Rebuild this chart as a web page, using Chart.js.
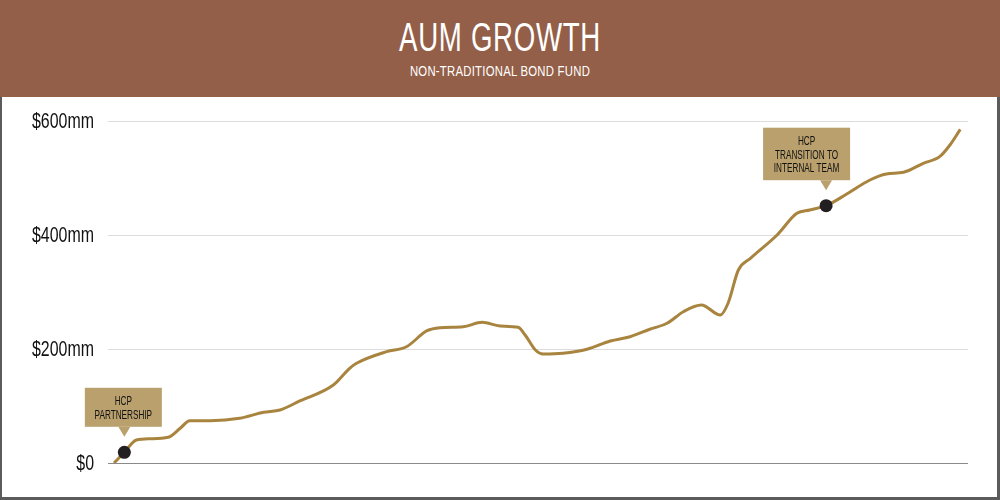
<!DOCTYPE html>
<html>
<head>
<meta charset="utf-8">
<script src="https://cdn.jsdelivr.net/npm/chart.js@4/dist/chart.umd.min.js"></script>
<style>
  html, body { margin: 0; padding: 0; width: 1000px; height: 500px; overflow: hidden; background: #ffffff; }
  #header { position: absolute; left: 0; top: 0; width: 1000px; height: 97px; background: #935F48; }
  #title { position: absolute; left: 0; width: 1000px; top: 17px; text-align: center; color: #ffffff;
           font-family: "Liberation Sans", sans-serif; font-size: 41px; line-height: 41px;
           transform: scaleX(0.675); transform-origin: 500px 0; letter-spacing: 1px; }
  #subtitle { position: absolute; left: 0; width: 1000px; top: 64px; text-align: center; color: #ffffff;
           font-family: "Liberation Sans", sans-serif; font-size: 14px; line-height: 14px; letter-spacing: 0.3px;
           transform: scaleX(0.81); transform-origin: 500px 0; }
  #frame { position: absolute; left: 0; top: 97px; width: 995px; height: 400px;
           border-left: 2px solid #5b5b5b; border-right: 3px solid #5b5b5b; border-bottom: 3px solid #5b5b5b; background: #fff; }
  #wrap { position: relative; width: 995px; height: 400px; }
</style>
</head>
<body>
<div id="header">
  <div id="title">AUM GROWTH</div>
  <div id="subtitle">NON-TRADITIONAL BOND FUND</div>
</div>
<div id="frame"><div id="wrap"><canvas id="chart"></canvas></div></div>
<script>
// Time position along the fund's history (0 = start of axis, 100 = end of axis)
const periods = [0.7, 1.9, 3.3, 4.9, 7.0, 8.4, 9.5, 11.9, 15.3, 18.1, 20.0, 22.3, 26.2, 28.1, 28.9, 32.4, 34.7,
                 37.1, 38.6, 41.3, 43.5, 45.6, 47.7, 48.5, 49.7, 50.6, 52.9, 55.7, 58.4, 60.7, 63.0, 65.0, 66.9,
                 69.0, 71.2, 72.1, 73.3, 74.7, 77.8, 80.1, 81.6, 83.5, 85.9, 88.6, 90.5, 92.5, 94.8, 96.7, 97.9, 99.1];
// AUM in $mm
const aumValues = [0, 18.8, 40.4, 42.6, 45.1, 60.9, 74.2, 74.2, 78.4, 89, 93, 108.8, 136.8, 166.1, 174.9, 195.3, 204,
                   232.1, 237.4, 239.1, 246.8, 240.4, 238.1, 224.6, 198.2, 191.2, 192.5, 199.5, 214, 221.6, 234.6, 245.1, 265.4,
                   277.2, 259.6, 280.2, 338.6, 359.1, 400, 438.1, 443.9, 451.4, 471.9, 496.5, 507, 510, 525.8, 537.4, 557.9, 585.4];
const yTickValues = [0, 200, 400, 600];
const yTickLabels = ['$0', '$200mm', '$400mm', '$600mm'];
// Milestones
const milestonePeriods = [1.9, 83.5];
const milestoneValues = [18.8, 451.4];
const milestoneLabels = [['HCP', 'PARTNERSHIP'], ['HCP', 'TRANSITION TO', 'INTERNAL TEAM']];

const lineData = periods.map((p, i) => ({ x: p, y: aumValues[i] }));
const dotData = milestonePeriods.map((p, i) => ({ x: p, y: milestoneValues[i] }));

const FONT = '"Liberation Sans", sans-serif';

// box styles for each milestone callout: [box width, x offset of box centre from point]
const calloutStyle = [
  { w: 77, dx: -1 },
  { w: 87, dx: -19.5 }
];

function condensedText(ctx, text, x, y, sx) {
  ctx.save();
  ctx.translate(x, y);
  ctx.scale(sx, 1);
  ctx.fillText(text, 0, 0);
  ctx.restore();
}

const calloutPlugin = {
  id: 'callouts',
  afterDatasetsDraw(chart) {
    const meta = chart.getDatasetMeta(0);
    const ctx = chart.ctx;
    meta.data.forEach((el, i) => {
      const lines = milestoneLabels[i];
      const st = calloutStyle[i];
      const lh = 13.5;
      const h = lines.length * lh + 12;
      const px = el.x, py = el.y;
      const tipY = py - 15.5;
      const bottom = tipY - 10;
      const top = bottom - h;
      const left = px + st.dx - st.w / 2;
      ctx.save();
      ctx.fillStyle = '#B9A06D';
      ctx.fillRect(left, top, st.w, h);
      ctx.beginPath();
      ctx.moveTo(px - 6, bottom);
      ctx.lineTo(px + 6, bottom);
      ctx.lineTo(px, tipY);
      ctx.closePath();
      ctx.fill();
      ctx.fillStyle = '#111111';
      ctx.font = '13px ' + FONT;
      ctx.textAlign = 'center';
      ctx.textBaseline = 'middle';
      const cx = left + st.w / 2;
      lines.forEach((t, k) => condensedText(ctx, t, cx, top + 13.8 + k * lh, 0.63));
      ctx.restore();
    });
  },
  afterDraw(chart) {
    const ys = chart.scales.y;
    const ctx = chart.ctx;
    ctx.save();
    ctx.fillStyle = '#111111';
    ctx.font = '22px ' + FONT;
    ctx.textAlign = 'right';
    ctx.textBaseline = 'middle';
    yTickValues.forEach((v, i) => {
      condensedText(ctx, yTickLabels[i], ys.right - 14, ys.getPixelForValue(v) + 0.5, 0.725);
    });
    ctx.restore();
  }
};

new Chart(document.getElementById('chart'), {
  type: 'line',
  data: {
    datasets: [
      {
        data: dotData,
        order: 0,
        showLine: false,
        pointRadius: 6.5,
        pointBackgroundColor: '#231f20',
        pointBorderWidth: 0
      },
      {
        data: lineData,
        order: 1,
        borderColor: '#A8843F',
        borderWidth: 3,
        pointRadius: 0,
        cubicInterpolationMode: 'monotone',
        fill: false
      }
    ]
  },
  options: {
    responsive: true,
    maintainAspectRatio: false,
    animation: false,
    layout: { padding: { left: 0, right: 29, top: 24, bottom: 34 } },
    plugins: { legend: { display: false }, tooltip: { enabled: false }, title: { display: false } },
    scales: {
      x: { type: 'linear', min: 0, max: 100, display: false },
      y: {
        min: 0, max: 600,
        afterFit(scale) { scale.width = 106; },
        afterBuildTicks(scale) { scale.ticks = yTickValues.map(v => ({ value: v })); },
        border: { display: false },
        grid: {
          drawTicks: false,
          lineWidth: 1,
          color: (c) => (c.tick && c.tick.value === 0) ? '#8a8a8a' : '#dcdcdc'
        },
        ticks: { display: false }
      }
    }
  },
  plugins: [calloutPlugin]
});
</script>
</body>
</html>
